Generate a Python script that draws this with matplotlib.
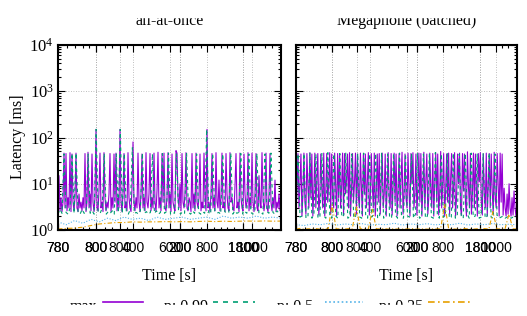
import numpy as np
import matplotlib
matplotlib.use("Agg")
import matplotlib.pyplot as plt
from matplotlib.patches import Rectangle

plt.rcParams['font.family'] = 'Liberation Serif'
plt.rcParams['mathtext.fontset'] = 'custom'
plt.rcParams['mathtext.rm'] = 'Liberation Serif'
plt.rcParams['mathtext.it'] = 'Liberation Serif:italic'

# panel titles
titles = ["all-at-once", "Megaphone (batched)"]

# latency series (ms), evenly sampled over each run
left_max = [
    3, 15, 2.6, 5, 2.5, 4, 46, 3, 45, 2.6, 5, 3, 47, 2.5, 44, 4,
    2.6, 5, 46, 3, 2.5, 6, 3, 4, 2.6, 5, 3, 45, 2.5, 4, 48, 3,
    6, 2.6, 44, 4, 2.5, 5, 150, 3, 2.6, 7, 46, 3, 4, 2.5, 47, 5,
    2.6, 4, 3, 6, 45, 2.5, 5, 3, 44, 4, 46, 2.6, 5, 3, 150, 4,
    2.5, 6, 45, 3, 4, 2.6, 47, 5, 3, 2.5, 8, 80, 4, 2.6, 5, 3,
    46, 4, 2.5, 6, 44, 3, 5, 2.6, 47, 4, 3, 6, 45, 2.6, 5, 3,
    46, 4, 2.5, 7, 48, 3, 5, 2.6, 45, 4, 46, 3, 2.6, 5, 47, 3,
    6, 2.5, 44, 4, 3, 2.6, 52, 46, 5, 3, 10, 2.6, 45, 4, 3, 6,
    47, 3, 2.6, 5, 4, 2.5, 45, 3, 6, 2.6, 46, 4, 3, 5, 44, 2.6,
    4, 3, 46, 5, 2.6, 150, 3, 4, 2.5, 6, 45, 3, 5, 2.6, 47, 4,
    3, 12, 2.6, 5, 46, 3, 4, 2.5, 45, 6, 3, 2.6, 47, 4, 5, 3,
    2.6, 9, 45, 3, 4, 2.5, 46, 5, 3, 2.6, 44, 6, 3, 4, 47, 2.6,
    5, 3, 46, 4, 2.5, 6, 45, 3, 2.6, 15, 4, 3, 47, 5, 2.6, 4,
    46, 3, 2.5, 6, 45, 4, 2.6, 5, 3, 12, 2.5, 4, 3, 6, 2.6, 5]
left_p99 = [
    2.2, 2.8, 2.3, 44, 2.4, 2.2, 3, 45, 2.3, 46, 2.5, 2.2, 2.8, 2.3, 2.4, 44,
    2.3, 2.6, 2.2, 150, 2.4, 2.3, 3, 45, 2.2, 2.5, 2.3, 2.6, 2.2, 44, 2.4, 150,
    2.3, 45, 2.5, 2.2, 2.8, 60, 2.3, 2.4, 2.2, 2.6, 46, 2.3, 2.5, 2.2, 2.4, 44,
    2.3, 2.6, 2.2, 2.4, 45, 2.3, 2.5, 46, 2.2, 2.4, 2.3, 44, 2.6, 2.2, 2.5, 2.3,
    45, 2.4, 2.2, 2.6, 2.3, 44, 2.4, 2.2, 2.5, 2.3, 150, 2.4, 2.2, 45, 2.6, 2.3,
    2.4, 2.2, 44, 2.5, 2.3, 2.4, 46, 2.2, 2.6, 2.3, 2.4, 45, 2.2, 2.5, 2.3, 44,
    2.4, 2.2, 2.6, 45, 2.3, 2.4, 2.2, 44, 2.5, 2.3, 46, 2.4, 2.2, 2.6, 2.3, 2.4]
left_p50 = [1.5, 1.3, 1.6, 1.4, 1.7, 1.5, 1.8, 1.6, 1.9, 1.7, 1.8, 1.6, 1.9, 1.7,
            1.8, 1.9, 1.7, 1.8, 1.9, 1.7, 2.0, 1.8, 1.9, 1.8, 2.0, 1.8, 1.9, 1.8]
left_p25 = [1.05, 1.08, 1.1, 1.15, 1.25, 1.35, 1.4, 1.45, 1.45, 1.5, 1.48, 1.5, 1.5, 1.52,
            1.5, 1.52, 1.5, 1.53, 1.55, 1.52, 1.55, 1.53, 1.55, 1.56, 1.55, 1.57, 1.55, 1.56]

right_max = [
    2, 8, 45, 3, 10, 44, 2, 6, 46, 4, 2.2, 45, 9, 3, 47, 5,
    44, 2, 7, 46, 3, 12, 45, 2.1, 5, 44, 8, 3, 46, 2, 6, 45,
    4, 10, 47, 2.2, 44, 6, 3, 46, 9, 2, 45, 5, 44, 3, 8, 46,
    2.1, 45, 6, 12, 44, 3, 47, 2, 7, 45, 4, 10, 46, 2.2, 44, 5,
    3, 46, 8, 2, 45, 6, 44, 3, 11, 47, 2.1, 5, 45, 9, 3, 46,
    2, 7, 44, 4, 45, 2.2, 10, 46, 3, 6, 44, 2, 8, 47, 5, 3,
    45, 2.1, 9, 46, 4, 44, 2, 7, 45, 3, 12, 48, 2.2, 6, 44, 5,
    3, 46, 8, 2, 45, 10, 47, 3, 6, 44, 2.1, 9, 46, 4, 45, 2,
    7, 48, 3, 11, 44, 2.2, 5, 46, 8, 3, 45, 2, 10, 47, 4, 44,
    2.1, 6, 50, 3, 9, 45, 2, 7, 44, 4, 46, 2.2, 12, 45, 3, 8,
    47, 2, 5, 44, 10, 46, 3, 2.1, 45, 7, 44, 4, 2, 49, 9, 3,
    45, 2.2, 6, 46, 3, 44, 8, 2, 45, 11, 47, 4, 2.1, 44, 6, 3,
    46, 2, 9, 45, 3, 44, 7, 2.2, 48, 5, 3, 45, 10, 2, 46, 4,
    44, 2.1, 8, 3, 2, 6, 2.2, 10, 3, 2, 5, 2.1, 7, 3, 2, 4]
right_p99 = [
    1.8, 44, 1.9, 2, 45, 1.8, 1.9, 46, 1.8, 2.2, 44, 1.9, 1.8, 45, 2, 1.8,
    47, 1.9, 1.8, 44, 2, 1.8, 45, 1.9, 2.1, 46, 1.8, 1.9, 44, 1.8, 2, 45,
    1.9, 1.8, 46, 2, 1.8, 44, 1.9, 2.2, 45, 1.8, 1.9, 47, 1.8, 2, 44, 1.9,
    1.8, 45, 2.1, 1.8, 46, 1.9, 1.8, 44, 2, 1.9, 45, 1.8, 2.2, 46, 1.8, 1.9,
    44, 1.8, 2, 45, 1.9, 1.8, 47, 2.1, 1.8, 44, 1.9, 2, 45, 1.8, 1.9, 46,
    1.8, 2, 44, 1.9, 1.8, 45, 2.2, 1.8, 46, 1.9, 2, 44, 1.8, 1.9, 45, 1.8,
    2, 46, 1.9, 1.8, 44, 2.1, 1.8, 1.9, 2, 1.8, 1.9, 2, 1.8, 1.9, 1.8, 2]
right_p50 = [1.3, 1.25, 1.35, 1.3, 1.4, 1.28, 1.35, 1.3, 1.38, 1.27, 1.33, 1.3, 1.4, 1.28,
             1.35, 1.3, 1.37, 1.29, 1.34, 1.3, 1.4, 1.28, 1.35, 1.3, 1.38, 1.3, 1.33, 1.3]
right_p25 = [
    1.05, 1.08, 1.04, 1.06, 1.05, 1.07, 1.04, 1.06, 1.05, 3.5, 1.06, 1.05, 1.04, 1.07,
    1.05, 3.2, 1.06, 1.05, 1.04, 2.8, 1.06, 1.05, 1.07, 1.04, 1.06, 1.05, 1.04, 1.06,
    1.05, 1.07, 1.04, 1.06, 1.05, 1.04, 1.06, 1.05, 1.07, 3.6, 1.05, 1.06, 1.04, 1.05,
    1.07, 1.05, 1.04, 1.06, 1.05, 1.07, 1.04, 2.5, 1.05, 1.06, 1.04, 2.2, 1.05, 1.06]

series_names = ["max", "p: 0.99", "p: 0.5", "p: 0.25"]
series_colors = ["#9400d3", "#009e73", "#56b4e9", "#e69f00"]
series_styles = ["-", (0, (3, 3)), (0, (1, 1.5)), (0, (4, 2, 1, 2))]

# x tick positions (share of the run, 0-1000) and their overlapping labels
tick_labels = ["700", "780", "200", "800", "800", "400", "600", "900", "200",
               "800", "1400", "1800", "1000"]
left_ticks = [0, 0, 170, 170, 278, 336, 502, 547, 547, 668, 830, 830, 870]
right_ticks = [0, 0, 163, 163, 276, 335, 502, 548, 548, 665, 833, 833, 905]
minor_x = [40, 75, 110, 140, 210, 240, 310, 380, 420, 460, 600, 640, 700,
           730, 760, 790, 930, 960]

fig = plt.figure(figsize=(5.27, 3.16), dpi=100)
axL = fig.add_axes([58 / 527, 86 / 316, 223 / 527, 185 / 316])
axR = fig.add_axes([296 / 527, 86 / 316, 221 / 527, 185 / 316])

panels = [
    (axL, [left_max, left_p99, left_p50, left_p25], left_ticks),
    (axR, [right_max, right_p99, right_p50, right_p25], right_ticks),
]

for i, (ax, data, ticks) in enumerate(panels):
    for vals, c, ls in zip(data, series_colors, series_styles):
        t = np.linspace(0, 1000, len(vals))
        ax.plot(t, vals, color=c, linestyle=ls, lw=0.8)
    ax.set_yscale("log")
    ax.set_ylim(1, 1e4)
    ax.set_xlim(0, 1000)
    ax.set_yticks([1, 10, 100, 1000, 10000])
    if i == 0:
        ax.set_yticklabels([r"$10^{%d}$" % k for k in range(5)], fontsize=12)
    else:
        ax.set_yticklabels([])
    ax.set_xticks(ticks)
    ax.set_xticklabels(tick_labels, fontsize=10, family="Liberation Sans")
    ax.set_xticks(minor_x, minor=True)
    ax.tick_params(which="both", direction="in", top=True, right=True, width=0.8)
    ax.tick_params(which="major", length=5)
    ax.tick_params(which="minor", length=2.5)
    ax.tick_params(axis="x", which="major", pad=8)
    ax.tick_params(axis="y", which="major", pad=3)
    ax.grid(True, which="major", color="#a8a8a8", ls=(0, (1, 2)), lw=0.6)
    for s in ax.spines.values():
        s.set_linewidth(1.5)
    mid = (ax.get_position().x0 + ax.get_position().x1) / 2
    fig.text(mid, (316 - 25) / 316, titles[i], ha="center", va="baseline", fontsize=11.5)
    fig.text(mid, (316 - 276) / 316, "Time [s]", ha="center", va="center", fontsize=11.5)

fig.text(18 / 527, (316 - 137) / 316, "Latency [ms]", rotation=90,
         ha="center", va="center", fontsize=11.5)

# legend row along the bottom
text_right = [97, 208, 313, 423]
line_spans = [(103, 143), (213, 255), (325, 363), (428, 473)]
for name, c, ls, tx, (x0, x1) in zip(series_names, series_colors, series_styles,
                                     text_right, line_spans):
    fig.text(tx / 527, (316 - 311) / 316, name, ha="right", va="baseline", fontsize=11.5)
    fig.add_artist(plt.Line2D([x0 / 527, x1 / 527], [(316 - 302) / 316] * 2,
                              color=c, linestyle=ls, lw=1.2))

# the original picture is cropped at top and bottom
fig.add_artist(Rectangle((0, 0), 1, 11 / 316, transform=fig.transFigure,
                         color="white", zorder=10))
fig.add_artist(Rectangle((0, 1 - 17 / 316), 1, 17 / 316, transform=fig.transFigure,
                         color="white", zorder=10))

fig.savefig("out.png", dpi=100)
